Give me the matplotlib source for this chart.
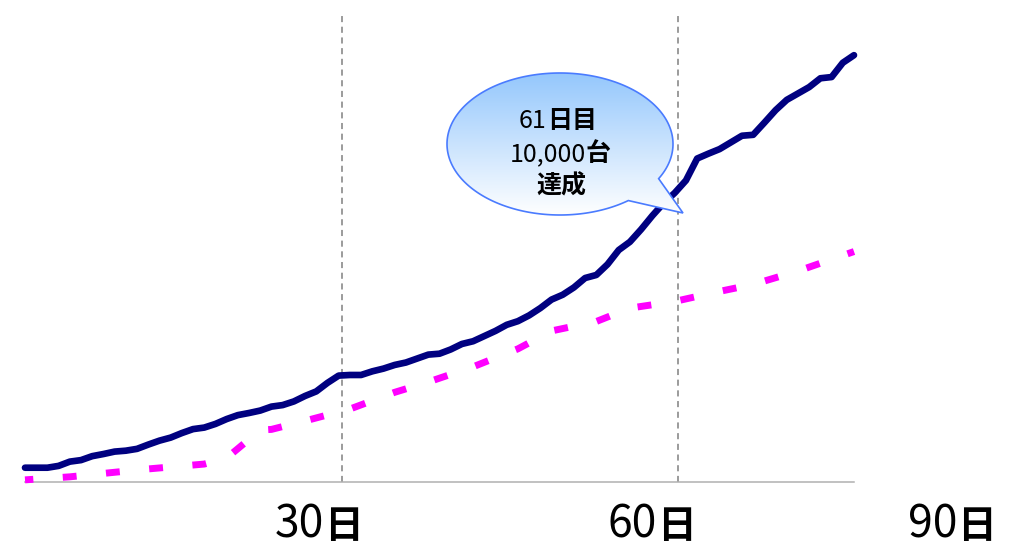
import matplotlib
matplotlib.use("Agg")
import matplotlib.pyplot as plt
import numpy as np
from matplotlib.path import Path
from matplotlib.patches import PathPatch

plt.rcParams['font.family'] = ['Noto Sans CJK JP', 'DejaVu Sans']

# ---------------- data ----------------
days = np.arange(1, 76)
units = [470, 470, 470, 530, 670, 720, 850, 920, 1000, 1030,
         1090, 1230, 1360, 1460, 1610, 1740, 1790, 1910, 2070, 2200,
         2270, 2350, 2480, 2530, 2650, 2830, 2980, 3260, 3500, 3520,
         3520, 3640, 3730, 3850, 3930, 4060, 4190, 4220, 4360, 4540,
         4630, 4800, 4970, 5170, 5290, 5480, 5720, 6000, 6160, 6400,
         6710, 6810, 7160, 7630, 7900, 8310, 8760, 9170, 9510, 9920,
         10640, 10800, 10950, 11170, 11390, 11420, 11820, 12230, 12570, 12780,
         12990, 13280, 13320, 13790, 14040]

plan_days = [1, 5, 9, 12, 17, 19, 22, 23, 26, 30, 34, 37, 41, 45, 48, 52, 55, 59, 63, 66, 70, 75]
plan_units = [70, 170, 320, 430, 590, 790, 1710, 1730, 2010, 2400, 2950, 3290, 3790, 4380,
              4970, 5280, 5720, 5940, 6270, 6500, 6940, 7580]

guide_days = [29.3, 59.3]
tick_labels = [("30", "日"), ("60", "日"), ("90", "日")]
callout_lines = [[("61", "normal"), ("日目", "bold")],
                 [("10,000", "normal"), ("台", "bold")],
                 [("達成", "bold")]]

# ---------------- figure ----------------
W, H = 1016, 546
fig = plt.figure(figsize=(W / 100, H / 100), dpi=100)
fig.patch.set_facecolor("white")

ax = fig.add_axes([25 / W, (H - 482) / H, (854 - 25) / W, (482 - 12) / H])
ax.patch.set_alpha(0)
for g in guide_days:
    ax.axvline(g, color="#808080", lw=1.1, linestyle=(0, (4, 3)), zorder=2)
ax.plot(days, units, color="#000080", lw=4.8, solid_capstyle="round",
        solid_joinstyle="round", zorder=3, clip_on=False)
ax.plot(plan_days, plan_units, color="#ff00ff", lw=5, linestyle=(0.8, (2, 4.25)),
        dash_capstyle="butt", zorder=4, clip_on=False)
ax.set_xlim(1, 75)
ax.set_ylim(0, 15460)
for s in ["left", "right", "top"]:
    ax.spines[s].set_visible(False)
ax.spines["bottom"].set_color("#b0b0b0")
ax.spines["bottom"].set_linewidth(1.1)
ax.set_xticks([])
ax.set_yticks([])

# ---------------- overlay in pixel coordinates ----------------
ov = fig.add_axes([0, 0, 1, 1], zorder=10)
ov.patch.set_alpha(0)
ov.axis("off")

# callout bubble
cx, cy, a, b = 560, 144, 113, 71
t = np.deg2rad(np.linspace(52.8, 389.2, 240))
xs = cx + a * np.cos(t)
ys = cy + b * np.sin(t)
verts = list(zip(xs, ys)) + [(683, 213), (xs[0], ys[0])]
codes = [Path.MOVETO] + [Path.LINETO] * (len(verts) - 2) + [Path.CLOSEPOLY]
path = Path(verts, codes)

top = np.array([0.58, 0.78, 0.99])
bot = np.array([1.0, 1.0, 1.0])
n = 200
fr = np.linspace(0, 1, n)[:, None]
grad = (top * (1 - fr) + bot * fr)[:, None, :]
grad = np.repeat(grad, 2, axis=1)
im = ov.imshow(grad, extent=[440, 690, 216, 72], origin="upper",
               aspect="auto", interpolation="bilinear", zorder=11)
patch = PathPatch(path, facecolor="none", edgecolor="#4a7bff", lw=1.2, zorder=12)
ov.add_patch(patch)
im.set_clip_path(patch)

ov.set_xlim(0, W)
ov.set_ylim(H, 0)

renderer = fig.canvas.get_renderer()


def mixed(cxp, base, parts):
    texts, widths = [], []
    for s, size, weight in parts:
        tx = ov.text(0, base, s, fontsize=size, fontweight=weight,
                     ha="left", va="baseline", color="black", zorder=13)
        bb = tx.get_window_extent(renderer)
        texts.append(tx)
        widths.append(bb.width)
    x = cxp - sum(widths) / 2
    for tx, w in zip(texts, widths):
        tx.set_x(x)
        x += w


for line, (xc, base) in zip(callout_lines, [(558, 128), (560, 161), (561, 193)]):
    mixed(xc, base, [(s, 18, w) for s, w in line])

for (num, unit), xc in zip(tick_labels, [319, 652, 952]):
    mixed(xc, 538, [(num, 32, "normal"), (unit, 28, "bold")])

fig.savefig("out.png", dpi=100, facecolor="white")
